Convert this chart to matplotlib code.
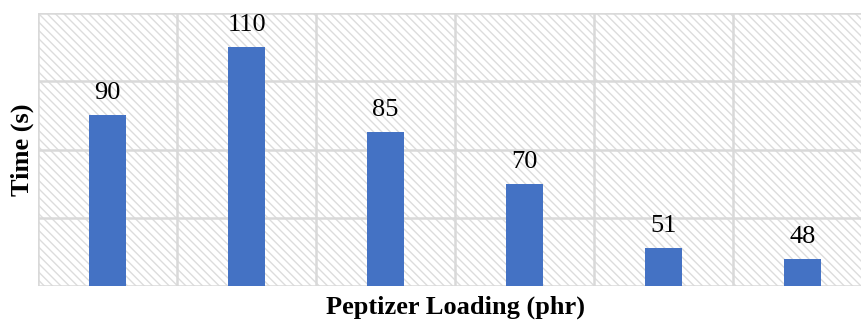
import matplotlib.pyplot as plt
import numpy as np

categories = ["1", "2", "3", "4", "5", "6"]
times = [90, 110, 85, 70, 51, 48]

plt.rcParams['font.family'] = ['Liberation Serif', 'DejaVu Serif']
plt.rcParams['hatch.linewidth'] = 1.0

fig = plt.figure(figsize=(8.61, 3.21), dpi=100)
W, H = 861, 321
left, right, top, bottom = 38, 872, 13, 286
ax = fig.add_axes([left / W, 1 - bottom / H, (right - left) / W, (bottom - top) / H])

x = np.arange(len(categories))
ax.set_xlim(-0.5, len(categories) - 0.5)
ax.set_ylim(40, 120)

# hatched plot background
ax.patch.set_facecolor('white')
ax.add_patch(plt.Rectangle((0, 0), 1, 1, transform=ax.transAxes, facecolor='white',
                           edgecolor='#dcdcdc', linewidth=0, hatch='\\\\\\\\', zorder=0))

# grid lines: horizontal every 20, vertical at category boundaries
for yv in np.arange(40, 121, 20):
    ax.axhline(yv, color='#d9d9d9', lw=1.8, zorder=1)
for xv in np.arange(-0.5, len(categories), 1.0):
    ax.axvline(xv, color='#d9d9d9', lw=1.8, zorder=1)

ax.bar(x, times, width=0.27, color='#4472c4', zorder=3)
for xi, v in zip(x, times):
    ax.annotate(f"{v}", (xi, v), xytext=(0, 11.5), textcoords='offset points',
                ha='center', va='baseline', fontsize=19, color='black')

for s in ax.spines.values():
    s.set_visible(False)
ax.set_xticks([])
ax.set_yticks([])

fig.text(455 / W, 1 - 307 / H, "Peptizer Loading (phr)", ha='center', va='center',
         fontsize=19, fontweight='bold')
fig.text(22 / W, 1 - 150 / H, "Time (s)", ha='center', va='center', rotation=90,
         fontsize=19, fontweight='bold')

fig.savefig('out.png', dpi=100)
